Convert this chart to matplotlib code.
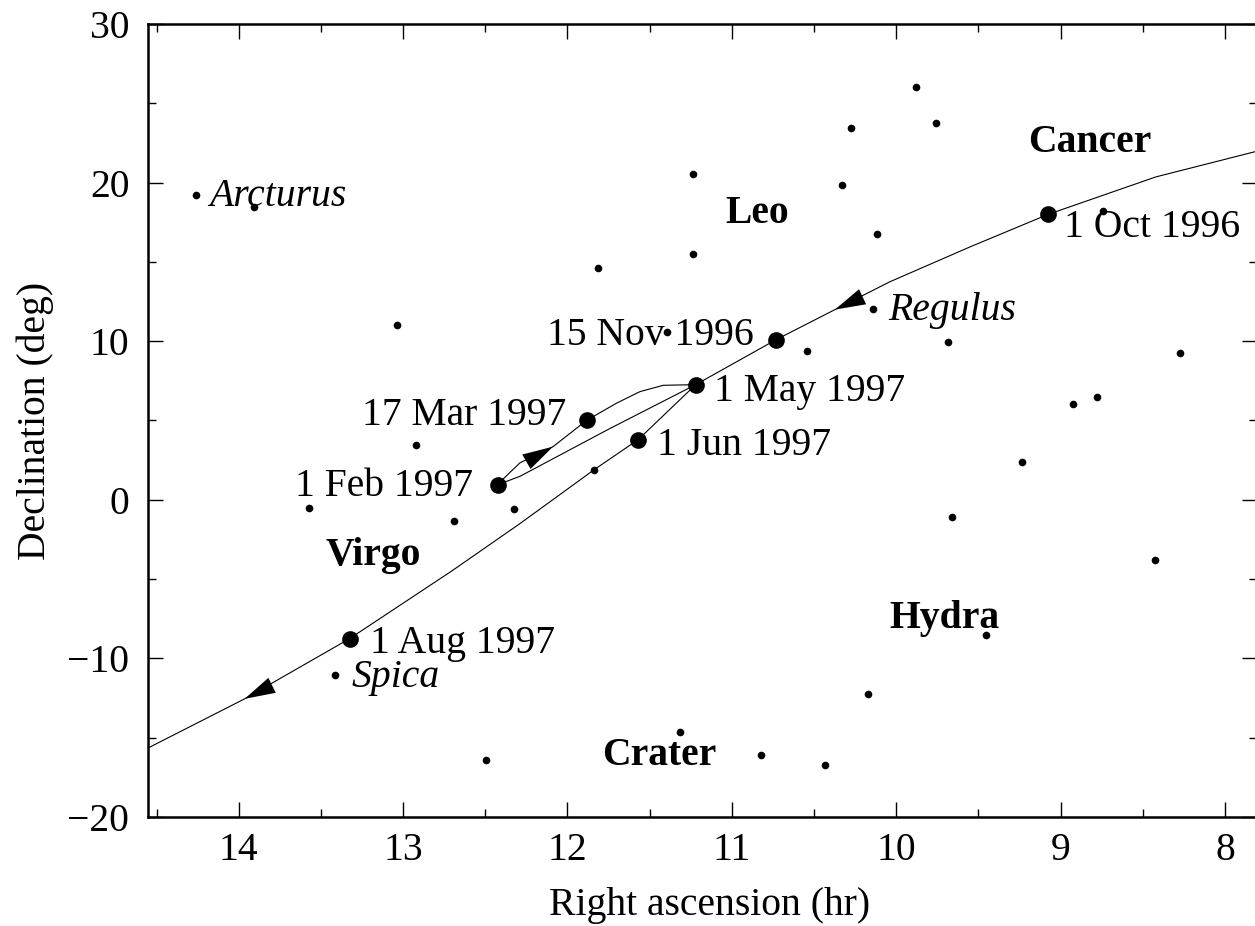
import matplotlib
matplotlib.use("Agg")
import matplotlib.pyplot as plt
from matplotlib.ticker import MultipleLocator

# ---- data (RA in hours, Dec in degrees) ----
# comet path, in time order
path_ra = [7.82, 8.42, 9.075, 9.55, 10.04, 10.373, 10.73, 11.22, 11.75, 12.289, 12.43,
           12.289, 12.088, 11.883, 11.70, 11.559, 11.417, 11.22,
           11.569, 11.84, 12.289, 12.707, 13.325, 13.964, 14.55]
path_dec = [21.94, 20.36, 18.0, 15.95, 13.74, 11.99, 10.1, 7.26, 4.45, 1.48, 0.93,
            2.33, 3.35, 5.01, 6.10, 6.82, 7.22, 7.26,
            3.8, 1.88, -1.5, -4.51, -8.75, -12.55, -15.64]

# dated comet positions
date_labels = ["1 Oct 1996", "15 Nov 1996", "1 Feb 1997", "17 Mar 1997",
               "1 May 1997", "1 Jun 1997", "1 Aug 1997"]
date_ra = [9.075, 10.732, 12.423, 11.883, 11.22, 11.569, 13.325]
date_dec = [18.0, 10.1, 0.96, 5.01, 7.26, 3.8, -8.75]
date_text_ra = [8.981, 12.123, 13.656, 13.251, 11.106, 11.454, 13.2]
date_text_dec = [16.58, 9.74, 0.26, 4.74, 6.21, 2.85, -9.65]

# background stars
star_ra = [14.258, 13.907, 13.035, 10.276, 11.235, 10.332, 10.119, 11.235, 11.813,
           10.14, 11.397, 10.541, 9.88, 9.76, 8.741, 9.684, 8.274, 8.923, 8.777,
           12.923, 13.572, 12.69, 12.327, 11.84, 13.412, 12.494,
           11.316, 10.825, 10.434, 10.174, 9.237, 9.663, 8.426, 9.456]
star_dec = [19.2, 18.47, 11.0, 23.45, 20.55, 19.87, 16.78, 15.5, 14.62,
            12.01, 10.59, 9.36, 26.03, 23.78, 18.22, 9.96, 9.26, 6.07, 6.49,
            3.48, -0.51, -1.31, -0.55, 1.86, -11.07, -16.38,
            -14.63, -16.07, -16.7, -12.22, 2.39, -1.06, -3.81, -8.5]

# named stars (italic)
named_stars = ["Arcturus", "Regulus", "Spica"]
named_ra = [14.181, 10.05, 13.311]
named_dec = [18.51, 11.36, -11.82]

# constellations (bold)
constellations = ["Cancer", "Leo", "Virgo", "Hydra", "Crater"]
const_ra = [9.197, 11.038, 13.47, 10.044, 11.792]
const_dec = [21.94, 17.48, -4.13, -8.08, -16.7]

# direction arrows: (tail, tip) along the path
arrow_tail_ra = [10.05, 13.70, 12.36]
arrow_tail_dec = [13.55, -11.2, 1.75]
arrow_tip_ra = [10.373, 13.964, 12.088]
arrow_tip_dec = [11.99, -12.55, 3.35]

xticks = [14, 13, 12, 11, 10, 9, 8]
yticks = [-20, -10, 0, 10, 20, 30]

# ---- figure ----
FONT = "Liberation Serif"
FS = 28.5
plt.rcParams["font.family"] = FONT

W, H = 1255, 926
fig = plt.figure(figsize=(W / 100, H / 100), dpi=100)
left_px, right_px, top_px, bot_px = 148, 1256.5, 24, 817
ax = fig.add_axes([left_px / W, (H - bot_px) / H,
                   (right_px - left_px) / W, (bot_px - top_px) / H])

ax.plot(path_ra, path_dec, color="black", lw=0.8, zorder=2)
ax.plot(star_ra, star_dec, "o", color="black", ms=5.5, mew=0, zorder=3)
ax.plot(date_ra, date_dec, "o", color="black", ms=12, mew=0, zorder=4)

for lab, x, y in zip(date_labels, date_text_ra, date_text_dec):
    ax.text(x, y, lab, fontsize=FS, ha="left", va="baseline", zorder=5)
for lab, x, y in zip(named_stars, named_ra, named_dec):
    ax.text(x, y, lab, fontsize=FS, style="italic", ha="left", va="baseline", zorder=5)
for lab, x, y in zip(constellations, const_ra, const_dec):
    ax.text(x, y, lab, fontsize=FS, weight="bold", ha="left", va="baseline", zorder=5)

for tx, ty, hx, hy in zip(arrow_tail_ra, arrow_tail_dec, arrow_tip_ra, arrow_tip_dec):
    ax.annotate("", xy=(hx, hy), xytext=(tx, ty),
                arrowprops=dict(arrowstyle="-|>,head_length=2.2,head_width=0.6",
                                mutation_scale=10, facecolor="black",
                                edgecolor="none", lw=0,
                                shrinkA=0, shrinkB=0), zorder=4)

ax.set_xlim(14.552, 7.808)
ax.set_ylim(-20, 30)
ax.set_xticks(xticks)
ax.set_yticks(yticks)
ax.set_xticklabels([str(t) for t in xticks])
ax.set_yticklabels([("\u2212" + str(-t)) if t < 0 else str(t) for t in yticks])
ax.xaxis.set_minor_locator(MultipleLocator(0.5))
ax.yaxis.set_minor_locator(MultipleLocator(5))
ax.tick_params(which="both", direction="in", top=True, right=True, width=1.0,
               labelsize=FS)
ax.tick_params(which="major", length=10.8)
ax.tick_params(which="minor", length=5.8)
ax.tick_params(axis="x", which="major", pad=11)
ax.tick_params(axis="y", which="major", pad=13.5)
for s in ax.spines.values():
    s.set_linewidth(1.8)

ax.set_xlabel("Right ascension (hr)", fontsize=FS)
ax.set_ylabel("Declination (deg)", fontsize=FS)
ax.xaxis.set_label_coords(0.507, -0.088)
ax.yaxis.set_label_coords(-0.085, 0.5)

fig.savefig("out.png", dpi=100)
